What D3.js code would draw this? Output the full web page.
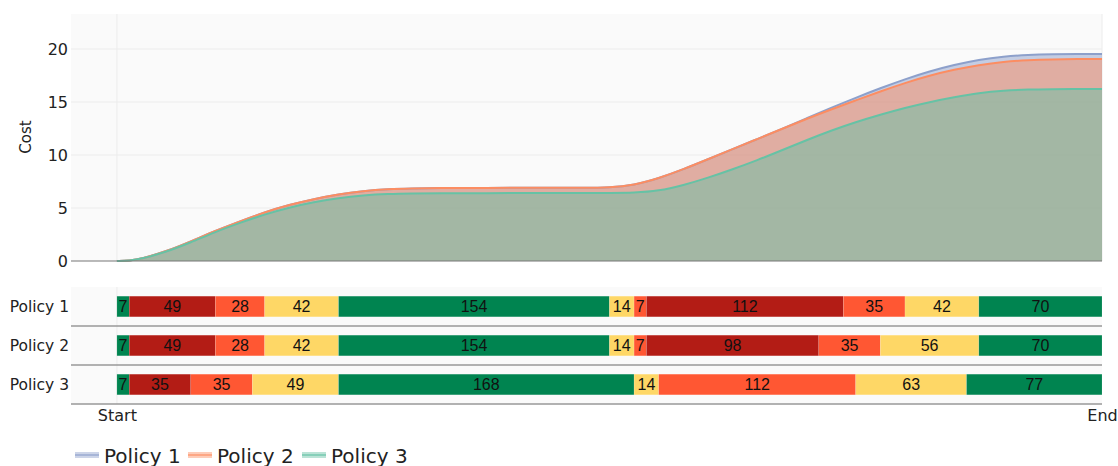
<!DOCTYPE html>
<html>
<head>
<meta charset="utf-8">
<script src="https://cdn.jsdelivr.net/npm/d3@7"></script>
<style>
  body { margin: 0; background: #fff; }
  svg { display: block; font-family: "DejaVu Sans", Verdana, sans-serif; }
</style>
</head>
<body>
<div id="chart"></div>
<script>
// series names
var policies = ["Policy 1", "Policy 2", "Policy 3"];
var seriesColors = ["#8da0cb", "#fc8d62", "#66c2a5"];

// cumulative cost curves (day, cost)
var costDays = [0, 7, 14, 28, 42, 56, 70, 84, 98, 112, 126, 140, 154, 168, 182, 210, 238, 266, 280, 294,
  308, 322, 336, 350, 364, 378, 392, 406, 420, 434, 448, 462, 476, 490, 504, 518, 532, 546, 560];
var costPolicy1 = [0, 0.03, 0.2, 0.9, 1.85, 2.85, 3.75, 4.6, 5.3, 5.85, 6.3, 6.6, 6.78, 6.85, 6.88, 6.9, 6.9, 6.9, 6.92, 7.15,
  7.8, 8.65, 9.6, 10.55, 11.5, 12.45, 13.45, 14.45, 15.4, 16.3, 17.15, 17.9, 18.5, 19.0, 19.3, 19.45, 19.5, 19.52, 19.53];
var costPolicy2 = [0, 0.03, 0.2, 0.9, 1.85, 2.85, 3.75, 4.6, 5.3, 5.85, 6.3, 6.6, 6.78, 6.85, 6.88, 6.9, 6.9, 6.9, 6.92, 7.15,
  7.8, 8.65, 9.6, 10.55, 11.5, 12.45, 13.4, 14.3, 15.15, 16.0, 16.8, 17.5, 18.05, 18.5, 18.8, 18.95, 19.02, 19.05, 19.06];
var costPolicy3 = [0, 0.03, 0.2, 0.85, 1.75, 2.75, 3.6, 4.4, 5.05, 5.55, 5.95, 6.2, 6.33, 6.38, 6.4, 6.4, 6.41, 6.42, 6.42, 6.43,
  6.6, 7.15, 7.85, 8.65, 9.5, 10.45, 11.4, 12.3, 13.1, 13.8, 14.45, 15.0, 15.45, 15.85, 16.08, 16.18, 16.2, 16.22, 16.23];
var costSeries = [costPolicy1, costPolicy2, costPolicy3];

// schedule segments: durations in days and status of each
var segPolicy1 = [7, 49, 28, 42, 154, 14, 7, 112, 35, 42, 70];
var statPolicy1 = ["g", "r", "o", "y", "g", "y", "o", "r", "o", "y", "g"];
var segPolicy2 = [7, 49, 28, 42, 154, 14, 7, 98, 35, 56, 70];
var statPolicy2 = ["g", "r", "o", "y", "g", "y", "o", "r", "o", "y", "g"];
var segPolicy3 = [7, 35, 35, 49, 168, 14, 112, 63, 77];
var statPolicy3 = ["g", "r", "o", "y", "g", "y", "o", "y", "g"];
var segments = [segPolicy1, segPolicy2, segPolicy3];
var statuses = [statPolicy1, statPolicy2, statPolicy3];
var statusColors = { g: "#008450", r: "#b31c15", o: "#ff5733", y: "#fed766" };

var xTickLabels = ["Start", "End"];
var xTickDays = [0, 560];
var yTicks = [0, 5, 10, 15, 20];

var W = 1118, H = 466;
var plotLeft = 71, plotRight = 1102;
var topY0 = 14, topY1 = 261;
var botY0 = 287, botY1 = 404;

var svg = d3.select("#chart").append("svg")
  .attr("width", W)
  .attr("height", H);

var x = d3.scaleLinear()
  .domain([-26.1, 560])
  .range([plotLeft, plotRight]);

var y = d3.scaleLinear()
  .domain([0, 23.3])
  .range([topY1, topY0]);

var band = d3.scaleBand()
  .domain(policies)
  .range([botY0, botY1])
  .paddingInner(0.47)
  .paddingOuter(0.235);

// backgrounds
svg.append("rect")
  .attr("x", plotLeft).attr("y", topY0)
  .attr("width", plotRight - plotLeft).attr("height", topY1 - topY0)
  .attr("fill", "#fafafa");
svg.append("rect")
  .attr("x", plotLeft).attr("y", botY0)
  .attr("width", plotRight - plotLeft).attr("height", botY1 - botY0)
  .attr("fill", "#fafafa");

// grid
svg.append("g").selectAll("line")
  .data(yTicks.filter(function (d) { return d > 0; }))
  .enter().append("line")
  .attr("x1", plotLeft).attr("x2", plotRight)
  .attr("y1", function (d) { return y(d); })
  .attr("y2", function (d) { return y(d); })
  .attr("stroke", "#ececec");

svg.append("g").selectAll("line")
  .data(xTickDays)
  .enter().append("line")
  .attr("x1", function (d) { return x(d); })
  .attr("x2", function (d) { return x(d); })
  .attr("y1", topY0).attr("y2", topY1)
  .attr("stroke", "#ececec");

svg.append("line")
  .attr("x1", x(0)).attr("x2", x(0))
  .attr("y1", botY0).attr("y2", botY1)
  .attr("stroke", "#ececec");

// areas + lines
var area = d3.area()
  .x(function (d) { return x(d[0]); })
  .y0(y(0))
  .y1(function (d) { return y(d[1]); })
  .curve(d3.curveBasis);
var line = d3.line()
  .x(function (d) { return x(d[0]); })
  .y(function (d) { return y(d[1]); })
  .curve(d3.curveBasis);

costSeries.forEach(function (vals, i) {
  var pts = costDays.map(function (d, j) { return [d, vals[j]]; });
  svg.append("path")
    .attr("d", area(pts))
    .attr("fill", seriesColors[i])
    .attr("fill-opacity", 0.5);
});
costSeries.forEach(function (vals, i) {
  var pts = costDays.map(function (d, j) { return [d, vals[j]]; });
  svg.append("path")
    .attr("d", line(pts))
    .attr("fill", "none")
    .attr("stroke", seriesColors[i])
    .attr("stroke-width", 2);
});

// zero line
svg.append("line")
  .attr("x1", plotLeft).attr("x2", plotRight)
  .attr("y1", y(0)).attr("y2", y(0))
  .attr("stroke", "#777").attr("stroke-width", 1);

// y axis
var yAxis = d3.axisLeft(y).tickValues(yTicks).tickSize(0).tickPadding(3);
var gy = svg.append("g")
  .attr("transform", "translate(" + plotLeft + ",0)")
  .call(yAxis);
gy.select(".domain").remove();
gy.selectAll("text")
  .attr("font-size", 16)
  .attr("font-family", "DejaVu Sans")
  .attr("fill", "#222");

svg.append("text")
  .attr("transform", "translate(31,137) rotate(-90)")
  .attr("text-anchor", "middle")
  .attr("font-size", 15)
  .attr("fill", "#222")
  .text("Cost");

// bars
policies.forEach(function (p, i) {
  var start = 0;
  var g = svg.append("g");
  segments[i].forEach(function (dur, j) {
    var s = start, e = start + dur;
    g.append("rect")
      .attr("x", x(s))
      .attr("y", band(p))
      .attr("width", x(e) - x(s))
      .attr("height", band.bandwidth())
      .attr("fill", statusColors[statuses[i][j]])
      .attr("stroke", "rgba(255,255,255,0.25)")
      .attr("stroke-width", 0.5);
    g.append("text")
      .attr("x", (x(s) + x(e)) / 2)
      .attr("y", band(p) + band.bandwidth() / 2)
      .attr("dy", "0.36em")
      .attr("text-anchor", "middle")
      .attr("font-family", "Liberation Sans, Arial, sans-serif")
      .attr("font-size", 16)
      .attr("fill", "#111")
      .text(dur);
    start = e;
  });
});

// row separators
var step = band.step();
svg.append("g").selectAll("line")
  .data([1, 2, 3])
  .enter().append("line")
  .attr("x1", plotLeft).attr("x2", plotRight)
  .attr("y1", function (d) { return botY0 + d * step; })
  .attr("y2", function (d) { return botY0 + d * step; })
  .attr("stroke", "#999").attr("stroke-width", 1.5);

// policy labels
svg.append("g").selectAll("text")
  .data(policies)
  .enter().append("text")
  .attr("x", 69)
  .attr("y", function (d) { return band(d) + band.bandwidth() / 2; })
  .attr("dy", "0.36em")
  .attr("text-anchor", "end")
  .attr("font-size", 15.5)
  .attr("fill", "#222")
  .text(function (d) { return d; });

// x axis
var xAxis = d3.axisBottom(x)
  .tickValues(xTickDays)
  .tickSize(0)
  .tickPadding(6)
  .tickFormat(function (d, i) { return xTickLabels[i]; });
var gx = svg.append("g")
  .attr("transform", "translate(0," + botY1 + ")")
  .call(xAxis);
gx.select(".domain").remove();
gx.selectAll("text")
  .attr("font-size", 16)
  .attr("font-family", "DejaVu Sans")
  .attr("fill", "#222");

// legend
var legX = [75, 188, 302];
policies.forEach(function (p, i) {
  var lg = svg.append("g").attr("transform", "translate(" + legX[i] + ",455)");
  lg.append("rect")
    .attr("x", 0).attr("y", -3)
    .attr("width", 24).attr("height", 6)
    .attr("fill", seriesColors[i]).attr("fill-opacity", 0.45);
  lg.append("line")
    .attr("x1", 0).attr("x2", 24)
    .attr("y1", 0).attr("y2", 0)
    .attr("stroke", seriesColors[i]).attr("stroke-width", 2).attr("stroke-opacity", 0.6);
  lg.append("text")
    .attr("x", 29).attr("y", 7.5)
    .attr("font-size", 20)
    .attr("fill", "#222")
    .text(p);
});
</script>
</body>
</html>
